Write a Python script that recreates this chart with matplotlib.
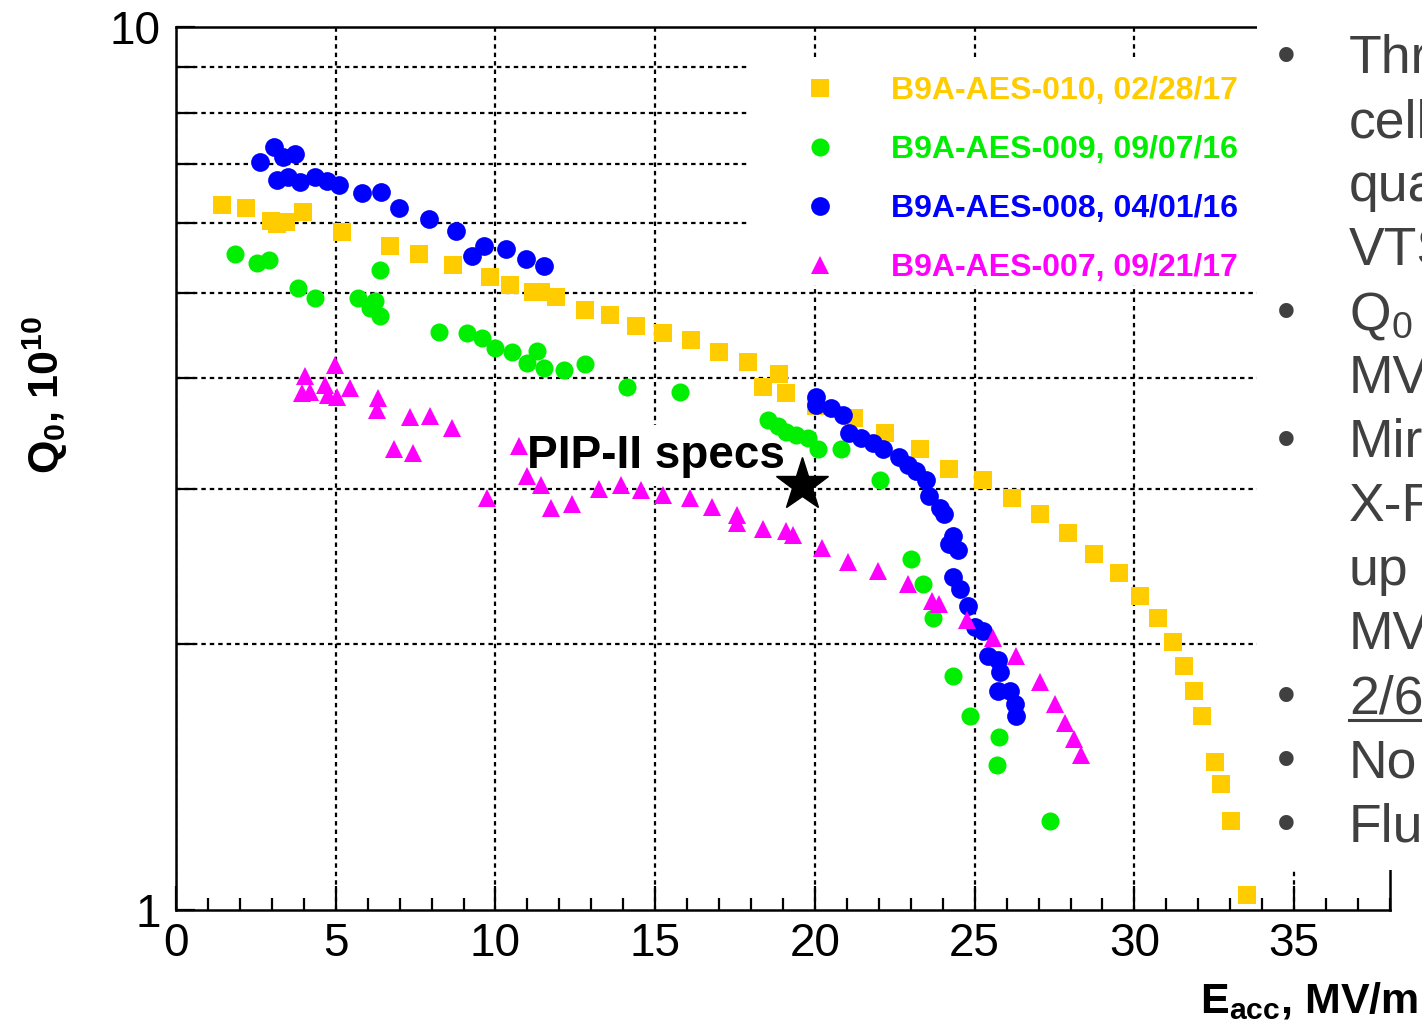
# Q0 vs Eacc for the B9A-AES cavities, VTS results
import matplotlib
matplotlib.use("Agg")
import matplotlib.pyplot as plt
from matplotlib.patches import Rectangle
from matplotlib.lines import Line2D
from matplotlib.ticker import MultipleLocator, NullFormatter

plt.rcParams['font.family'] = ['Liberation Sans', 'DejaVu Sans']
plt.rcParams['mathtext.fontset'] = 'custom'
plt.rcParams['mathtext.rm'] = 'Liberation Sans'
plt.rcParams['mathtext.bf'] = 'Liberation Sans:bold'
plt.rcParams['mathtext.it'] = 'Liberation Sans:italic'

# B9A-AES-010, 02/28/17
e010 = [1.43, 2.18, 2.97, 3.16, 3.45, 3.97, 5.19, 6.71, 7.62, 8.66, 9.82, 10.44, 11.18, 11.41,
        11.88, 12.80, 13.58, 14.39, 15.24, 16.13, 17.00, 17.89, 18.36, 18.86, 19.09, 20.03,
        21.23, 22.20, 23.30, 24.19, 25.26, 26.17, 27.06, 27.92, 28.74, 29.51, 30.17, 30.74,
        31.22, 31.55, 31.85, 32.13, 32.52, 32.70, 33.02, 33.53]
q010 = [6.29, 6.24, 6.03, 5.98, 6.02, 6.18, 5.86, 5.65, 5.53, 5.38, 5.21, 5.10, 5.01, 5.01,
        4.95, 4.78, 4.72, 4.59, 4.50, 4.42, 4.28, 4.18, 3.91, 4.05, 3.85, 3.72,
        3.61, 3.47, 3.33, 3.16, 3.07, 2.93, 2.81, 2.67, 2.53, 2.41, 2.27, 2.14,
        2.01, 1.89, 1.77, 1.66, 1.47, 1.39, 1.26, 1.04]

# B9A-AES-009, 09/07/16
e009 = [1.85, 2.53, 2.92, 3.83, 4.34, 5.69, 6.24, 6.08, 6.39, 6.39, 8.22, 9.11, 9.58, 9.98,
        10.52, 10.99, 11.31, 11.51, 12.14, 12.79, 14.13, 15.77, 18.52, 18.83, 19.09, 19.40,
        19.77, 20.08, 20.81, 22.04, 23.00, 23.37, 23.69, 24.32, 24.84, 25.75, 25.71, 27.37]
q009 = [5.53, 5.41, 5.45, 5.06, 4.93, 4.93, 4.90, 4.80, 4.71, 5.31, 4.51, 4.50, 4.44, 4.33,
        4.28, 4.16, 4.30, 4.11, 4.09, 4.15, 3.91, 3.86, 3.59, 3.53, 3.48, 3.45,
        3.42, 3.33, 3.33, 3.07, 2.50, 2.34, 2.14, 1.84, 1.66, 1.57, 1.46, 1.26]

# B9A-AES-008, 04/01/16
e008 = [2.63, 3.08, 3.36, 3.71, 3.16, 3.52, 3.89, 4.34, 4.72, 5.09, 5.82, 6.43, 6.99, 7.91,
        8.78, 9.27, 9.63, 10.34, 10.94, 11.51, 20.03, 20.03, 20.50, 20.87, 21.08, 21.44,
        21.81, 22.12, 22.64, 22.90, 23.17, 23.48, 23.58, 23.90, 24.05, 24.32, 24.21, 24.47,
        24.32, 24.55, 24.79, 25.00, 25.26, 25.41, 25.73, 25.78, 25.73, 26.09, 26.25, 26.30]
q008 = [7.04, 7.32, 7.13, 7.19, 6.71, 6.77, 6.68, 6.77, 6.70, 6.62, 6.49, 6.51, 6.23, 6.06,
        5.88, 5.50, 5.65, 5.60, 5.46, 5.36, 3.81, 3.73, 3.70, 3.64, 3.47, 3.42,
        3.38, 3.33, 3.26, 3.19, 3.14, 3.07, 2.94, 2.85, 2.81, 2.65, 2.60, 2.56,
        2.38, 2.31, 2.21, 2.09, 2.07, 1.94, 1.92, 1.86, 1.77, 1.77, 1.71, 1.66]

# B9A-AES-007, 09/21/17
e007 = [4.04, 3.94, 4.20, 4.98, 4.67, 4.77, 5.04, 5.45, 6.32, 6.29, 7.31, 7.96, 8.64, 6.81,
        7.41, 10.73, 9.74, 10.99, 11.41, 11.74, 12.40, 13.24, 13.94, 14.57, 15.24, 16.08,
        16.79, 17.57, 17.55, 18.38, 19.09, 19.30, 20.21, 21.02, 21.98, 22.90, 23.67, 23.88,
        24.75, 25.57, 26.30, 27.03, 27.52, 27.84, 28.11, 28.34]
q007 = [4.02, 3.85, 3.86, 4.14, 3.93, 3.83, 3.81, 3.90, 3.80, 3.68, 3.62, 3.63, 3.51, 3.33,
        3.29, 3.35, 2.93, 3.10, 3.03, 2.85, 2.88, 3.00, 3.03, 2.99, 2.95, 2.93,
        2.86, 2.80, 2.74, 2.70, 2.69, 2.66, 2.57, 2.48, 2.42, 2.34, 2.24, 2.22,
        2.13, 2.03, 1.94, 1.81, 1.71, 1.63, 1.56, 1.50]

spec_e = 19.6
spec_q = 3.03

labels = ['B9A-AES-010, 02/28/17', 'B9A-AES-009, 09/07/16',
          'B9A-AES-008, 04/01/16', 'B9A-AES-007, 09/21/17']

notes = ['Thr', 'cell', 'qua', 'VTS', 'Q$_0$', 'MV', 'Mir', 'X-R', 'up', 'MV', '2/6', 'No', 'Flu']
bulleted = [0, 4, 6, 10, 11, 12]

W, H = 1422, 1025
fig = plt.figure(figsize=(W / 100, H / 100), dpi=100)
ax = fig.add_axes([176 / W, 1 - 910 / H, (1390 - 176) / W, (910 - 27) / H])

ORANGE = '#ffcc00'
GREEN = '#00ee00'
BLUE = '#0000ff'
MAGENTA = '#ff00ff'

l010, = ax.plot(e010, q010, ls='none', marker='s', ms=12.5, mew=0, color=ORANGE, zorder=3)
l009, = ax.plot(e009, q009, ls='none', marker='o', ms=13, mew=0, color=GREEN, zorder=3)
l008, = ax.plot(e008, q008, ls='none', marker='o', ms=13.5, mew=0, color=BLUE, zorder=3)
l007, = ax.plot(e007, q007, ls='none', marker='^', ms=13, mew=0, color=MAGENTA, zorder=3)
ax.plot([spec_e], [spec_q], ls='none', marker='*', ms=40, color='black', zorder=4)

ax.text(11.0, 3.17, 'PIP-II specs', fontsize=33, fontweight='bold', ha='left', va='baseline',
        zorder=1.5, bbox=dict(facecolor='white', edgecolor='none', pad=6))

ax.set_yscale('log')
ax.set_xlim(0, 38)
ax.set_ylim(1, 10)
ax.xaxis.set_major_locator(MultipleLocator(5))
ax.xaxis.set_minor_locator(MultipleLocator(1))
ax.set_yticks([1, 10], ['1', '10'])
ax.set_yticks([2, 3, 4, 5, 6, 7, 8, 9], minor=True)
ax.yaxis.set_minor_formatter(NullFormatter())

ax.tick_params(axis='both', which='both', direction='in', width=1.6, top=False, right=False,
               labelsize=33, colors='black')
ax.tick_params(axis='x', which='major', length=17, pad=9)
ax.tick_params(axis='x', which='minor', length=8.5)
ax.tick_params(axis='y', which='both', length=14, pad=11)

ax.set_axisbelow(True)
ax.grid(True, which='major', axis='x', color='black', lw=1.6, ls=(0, (2, 1.8)))
ax.grid(True, which='minor', axis='y', color='black', lw=1.6, ls=(0, (2, 1.8)))
for sp in ax.spines.values():
    sp.set_linewidth(1.8)

# white area behind the legend
ax.add_patch(Rectangle((0.471, 0.708), 0.42, 0.258, transform=ax.transAxes,
                       facecolor='white', edgecolor='none', zorder=1))
ax.legend([l010, l009, l008, l007], labels, loc='upper left', bbox_to_anchor=(0.517, 0.944),
          frameon=False, borderpad=0, borderaxespad=0, handlelength=1.0, handletextpad=1.75,
          labelspacing=0.9, markerscale=1.0, labelcolor='markerfacecolor',
          prop={'size': 23, 'weight': 'bold'})

fig.text(45 / W, 1 - 395 / H, r'Q$_{\mathbf{0}}$, 10$^{\mathbf{10}}$', rotation=90,
         fontsize=31, fontweight='bold', ha='center', va='center')

# slide text box covering the right side of the plot
fig.add_artist(Rectangle((1257 / W, 1 - 870 / H), 1 - 1257 / W, 870 / H,
                         transform=fig.transFigure, facecolor='white', edgecolor='none',
                         zorder=10))
for i, t in enumerate(notes):
    yb = 1 - (73 + 64 * i) / H
    fig.text(1349 / W, yb, t, fontsize=38.5, color='#404040', ha='left', va='baseline', zorder=11)
    if i in bulleted:
        fig.text(1286 / W, yb, '\u2022', fontsize=38.5, color='#404040', ha='center',
                 va='baseline', zorder=11)
fig.add_artist(Line2D([1349 / W, 1], [1 - 720 / H, 1 - 720 / H], transform=fig.transFigure,
                      color='#404040', lw=2.2, zorder=11))

fig.text(1200 / W, 1 - 1013 / H, r'E$_{\mathbf{acc}}$, MV/m', fontsize=31, fontweight='bold',
         ha='left', va='baseline', zorder=11)

fig.savefig('out.png', dpi=100)
